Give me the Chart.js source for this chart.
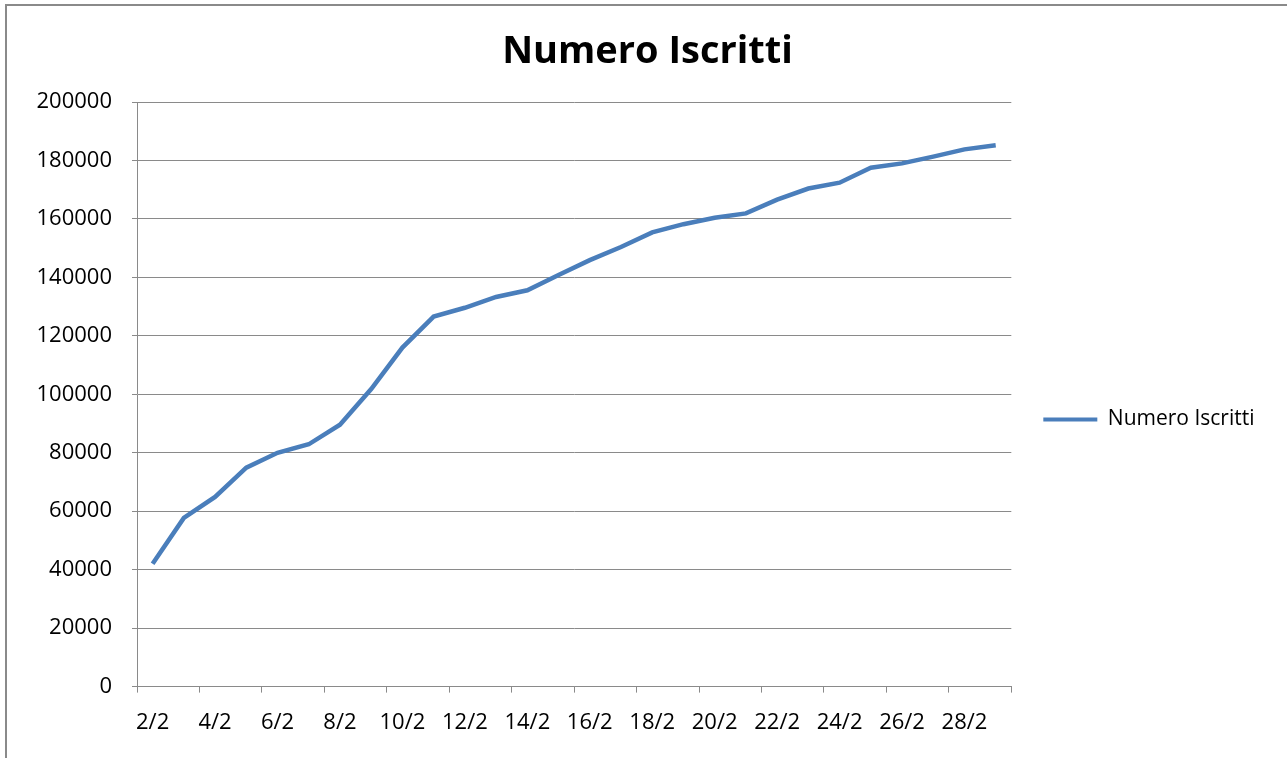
<!DOCTYPE html>
<html><head><meta charset="utf-8">
<script src="https://cdn.jsdelivr.net/npm/chart.js@4"></script>
<style>
html,body{margin:0;padding:0;background:#fff;}
#wrap{position:relative;width:1287px;height:758px;overflow:hidden;}
#frame{position:absolute;left:5px;top:4px;width:1400px;height:900px;border-left:2px solid #8a8a8a;border-top:2px solid #8a8a8a;pointer-events:none;}
canvas{position:absolute;left:0;top:0;}
</style></head>
<body><div id="wrap"><canvas id="c" width="1287" height="758"></canvas><div id="frame"></div></div>
<script>
const chartTitle = 'Numero Iscritti';
const seriesName = 'Numero Iscritti';
const categories = ['2/2','3/2','4/2','5/2','6/2','7/2','8/2','9/2','10/2','11/2','12/2','13/2','14/2','15/2',
  '16/2','17/2','18/2','19/2','20/2','21/2','22/2','23/2','24/2','25/2','26/2','27/2','28/2','29/2'];
const iscritti = [42000,57700,64900,74900,80000,82900,89600,101800,116000,126600,129600,133300,135600,140800,
  145900,150400,155400,158200,160400,161900,166600,170400,172400,177500,179000,181300,183800,185200];
const yTicks = {min:0, max:200000, step:20000};

const gray = '#8a8a8a';
const FONT = 'Open Sans';
new Chart(document.getElementById('c'), {
  type:'line',
  data:{labels:categories, datasets:[{label:seriesName, data:iscritti, borderColor:'#4A7EBB', backgroundColor:'#4A7EBB',
    borderWidth:4.5, pointRadius:0, tension:0, fill:false}]},
  options:{
    responsive:false, animation:false, devicePixelRatio:1,
    layout:{padding:{left:30.5, right:22.5, top:4, bottom:5}},
    plugins:{
      title:{display:true, text:chartTitle, color:'#000', font:{family:FONT, size:38, weight:'bold'}, padding:{top:25, bottom:27.4}},
      legend:{position:'right',
        title:{display:true, text:'', font:{family:FONT, size:10}, padding:{top:70, bottom:0}},
        labels:{boxWidth:54, boxHeight:4, color:'#000', font:{family:FONT, size:21}, padding:32,
          generateLabels: ch => ch.data.datasets.map((d,i)=>({text:d.label, fillStyle:d.borderColor, strokeStyle:d.borderColor, lineWidth:0, hidden:false, datasetIndex:i, fontColor:'#000'}))}},
      tooltip:{enabled:false}
    },
    scales:{
      x:{offset:true,
        grid:{offset:true, drawOnChartArea:false, drawTicks:true, tickLength:6,
          tickColor: ctx => (ctx.index === undefined || ctx.index % 2 === 0) ? gray : 'rgba(0,0,0,0)'},
        border:{color:gray, width:1},
        ticks:{autoSkip:false, maxRotation:0, minRotation:0, padding:17, color:'#000', font:{family:FONT, size:22},
          callback:(v,i)=> i % 2 === 0 ? categories[i] : ''}},
      y:{min:yTicks.min, max:yTicks.max,
        afterFit: s => { s.width = 106.5; },
        grid:{color:gray, lineWidth:1, tickLength:5, tickColor:gray},
        border:{color:gray, width:1},
        ticks:{stepSize:yTicks.step, padding:20, color:'#000', font:{family:FONT, size:22},
          callback: v => String(v)}}
    }
  }
});
</script></body></html>
